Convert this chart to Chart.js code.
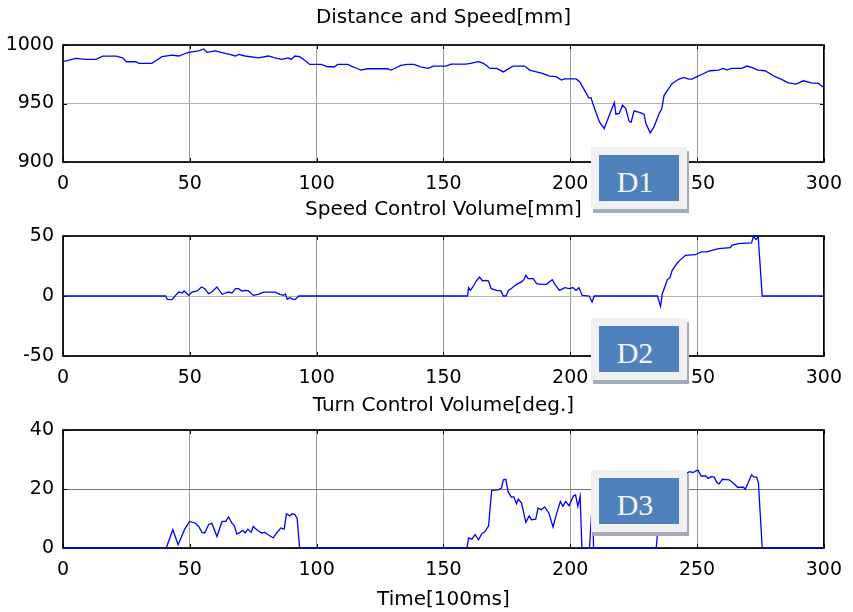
<!DOCTYPE html>
<html>
<head>
<meta charset="utf-8">
<script src="https://cdn.jsdelivr.net/npm/chart.js@4.4.1/dist/chart.umd.min.js"></script>
<style>
  body { margin: 0; background: #fff; }
  #fig { position: relative; width: 853px; height: 612px; overflow: hidden; background: #fff; }
  .panel { position: absolute; left: 0; width: 853px; }
  .tag {
    position: absolute; left: 591px; width: 96px; height: 62px;
    box-sizing: border-box; padding: 8px; background: #f1f1f1;
    box-shadow: 2px 4px 0 #a3adbb;
  }
  .tag span {
    display: flex; align-items: center; justify-content: center;
    width: 80px; height: 46px; box-sizing: border-box;
    padding: 7px 8px 0 0; background: #4f81bd; color: #f6f6f6;
    font: 30px 'Liberation Serif', 'DejaVu Serif', serif;
  }
</style>
</head>
<body>
<div id="fig">
  <div class="panel" style="top:0;height:198px"><canvas id="c1"></canvas></div>
  <div class="panel" style="top:198px;height:196px"><canvas id="c2"></canvas></div>
  <div class="panel" style="top:394px;height:218px"><canvas id="c3"></canvas></div>
  <div class="tag" style="top:147px"><span>D1</span></div>
  <div class="tag" style="top:318px"><span>D2</span></div>
  <div class="tag" style="top:470px"><span>D3</span></div>
</div>
<script>
// time axis in units of 100 ms
const xTicks = [0, 50, 100, 150, 200, 250, 300];

// distance and speed [mm]
const distT = [0, 1.3, 5, 9, 13, 15.7, 21, 23.5, 25, 28.7, 30, 35, 36.6, 39, 43, 45.7, 47.7, 49.6, 53.5, 55.5,
  56.8, 60, 62.7, 65.3, 68, 69.2, 71.8, 77, 81, 83.6, 86.2, 88.8, 90, 91.4, 93.3, 95.3, 97.3, 101.8, 104.4, 107,
  108.4, 112.3, 113.6, 116.2, 117.5, 120, 128, 129.2, 130.5, 133.2, 135.8, 138.4, 141, 144, 146, 151, 153, 159, 160.6, 163.8,
  165.8, 168.4, 171, 173.6, 176, 177.5, 182, 184, 189, 191.8, 194.5, 196.5, 197.8, 202.3, 203.7, 205.6, 207.3, 208.2, 208.9, 211.5,
  213.4, 215.4, 217.4, 218, 219.3, 220.6, 221.9, 223.2, 224, 225.2, 227.8, 229.1, 229.8, 231.5, 233, 235, 236.1, 237, 240.2, 242.9,
  244.8, 246.7, 248, 250, 252, 255, 258.5, 260.4, 261.7, 263.6, 267.6, 269.6, 271.5, 274, 276.8, 280.8, 283.3, 286, 289, 292,
  295, 297.8, 300];
const distV = [986, 986.5, 988.5, 987.7, 987.7, 990.5, 990.5, 989, 985.7, 985.7, 984.3, 984.3, 986.6, 990, 991.4, 990.6, 992.3, 993.7, 995, 996.6,
  993.7, 995, 993.5, 992.3, 990.6, 992, 990.6, 989, 990.6, 989, 987.7, 989, 987.7, 990.6, 990, 987, 983.4, 983.4, 981.4, 981.4,
  983.4, 983.4, 982, 979.7, 978.6, 979.7, 979.7, 978.6, 979.7, 982.6, 983.4, 983.4, 981.4, 980, 982, 982, 983.7, 983.7, 984.3, 985.7,
  984.3, 980, 980, 977, 980, 982, 982, 978.6, 975.7, 973.4, 972.9, 970, 971, 971, 968.6, 961.4, 954.8, 955, 950, 934.3,
  928.6, 940, 950.9, 940.9, 941.5, 948.6, 945.7, 934.9, 934, 943.7, 942, 940.9, 933, 924.9, 930, 941, 945.7, 957, 967.1, 970.9,
  972.3, 970.9, 970.9, 972.9, 975, 978, 978.6, 980, 978.6, 980, 980, 982, 980.9, 978.6, 978, 972.9, 970.6, 967.7, 966.6, 969.4,
  967.7, 967.2, 963.7];

// speed control volume [mm]
const speedT = [0, 40.5, 41.1, 43, 44.4, 45.7, 47, 47.7, 48.6, 49.6, 50.9, 52.9, 54.6, 55.9, 57.4, 58.7, 60.7, 62.7, 64, 65.3,
  66.6, 68.1, 69.2, 70.5, 71.8, 73.1, 75, 77, 79, 83.6, 85.5, 86.8, 87.7, 88.4, 89.4, 90.7, 91.6, 93, 159.5, 159.9,
  160.6, 161.6, 162.9, 164.2, 165.5, 166.8, 167.8, 168.8, 171, 172.7, 173.6, 174.7, 175.6, 177.3, 178.8, 180.8, 181.7, 182.5, 183.4, 185.4,
  186.7, 188.6, 190.6, 192.9, 194.2, 195.8, 197.8, 199.7, 201, 202.3, 203.4, 204.7, 207.5, 208.6, 209.5, 234.4, 235.6, 236.3, 238.3, 239.3,
  240.2, 242.2, 243.5, 245.4, 249.3, 251.7, 253.9, 255.9, 258.5, 263.1, 263.7, 266.3, 271.5, 272.2, 273.2, 274.1, 275.7, 300];
const speedV = [0, 0, -2.8, -3, 0.5, 3.3, 2.5, 4.2, 2.5, 0.5, 3.3, 4.2, 7.5, 6.1, 2, 3.3, 7.5, 1.4, 2.5, 3.3,
  2.5, 6.1, 6.1, 4.2, 4.7, 4.2, 0.5, 1.4, 3.3, 3.3, 1.4, 0.5, 1.7, -2.8, -1.4, -2.8, -2.8, 0, 0, 7,
  4.7, 7.5, 12.5, 15.8, 12.5, 13, 12.5, 6.1, 4.7, 4.2, 0, 0, 4.7, 7, 9.7, 11.7, 13.6, 17.2, 14.4, 14.4,
  10.3, 9.7, 9.7, 13.6, 8.9, 4.7, 7, 6.1, 7, 4.7, 7, 0.5, 0, -5, 0, 0, -8.6, 1.9, 13.6, 15.3,
  21.4, 27.5, 30.3, 33.9, 34.4, 36.7, 36.7, 38, 39.4, 40.3, 42.2, 43.6, 44.2, 49.7, 47, 49.2, 0, 0];

// turn control volume [deg.]
const turnT = [0, 40.7, 43.3, 45.4, 48, 49.9, 52.2, 53.5, 54.8, 55.9, 57.4, 58.7, 60.7, 62.7, 64.2, 65.3, 66.6, 67.6, 68.5, 69.8,
  70.9, 71.8, 72.9, 74.2, 75, 76.4, 78.3, 79.6, 80.9, 82.9, 84.2, 85.9, 87.2, 88.1, 89.4, 90.3, 91.4, 92.3, 93.3, 159.3,
  159.9, 161.2, 162.5, 163.8, 165.1, 166.4, 167.8, 169, 171.6, 172.9, 173.6, 174.6, 175.5, 176.8, 177.7, 178.8, 179.5, 180.8, 182.5, 183.8,
  184.7, 186.4, 187.3, 188.6, 189.9, 191.6, 193.2, 194.5, 196.1, 197.1, 198.2, 199.5, 201.3, 202.1, 203, 203.9, 204.6, 207.6, 208.7, 209.2,
  233.9, 234.8, 236, 238, 240, 242, 244, 245.8, 247.1, 248.4, 250.3, 251.6, 253.5, 254.4, 255.5, 256.8, 257.8, 258.7, 260, 262.7,
  264.7, 265.9, 268.3, 269, 270.2, 271.5, 272.5, 273.5, 274.2, 275.7, 300];
const turnV = [0, 0, 6.2, 1.1, 6.4, 9, 8.4, 7.3, 5.3, 5.1, 7.9, 8.4, 3.9, 9, 9, 10.5, 8.4, 7.5, 4.7, 5.3,
  6, 5.1, 6.4, 5.3, 7.3, 6.2, 5.1, 5.3, 4.5, 3.4, 5.1, 6.8, 6.4, 11.6, 10.9, 11.6, 11.3, 10.1, 0, 0,
  3.4, 3, 4.5, 2.8, 4.8, 5.6, 7.5, 19.5, 19.7, 20.3, 23.1, 23.3, 19.1, 17.2, 17.4, 15, 16.6, 15.2, 8.7, 10.9,
  9.6, 9.8, 13.5, 13, 13.9, 11.8, 7.1, 11.3, 15.8, 14.1, 15.8, 14.3, 17.7, 18, 14.1, 17.5, 0, 0, 16, 0,
  0, 9, 18, 21, 23, 24, 25, 25.3, 25.9, 25.6, 26.5, 24.4, 24.4, 23.6, 24.2, 24, 22.2, 21.7, 23.3, 23.1,
  21.7, 20.6, 20.6, 19.9, 22.2, 24.8, 24, 24, 22, 0, 0];

const yTicks1 = [900, 950, 1000];
const yTicks2 = [-50, 0, 50];
const yTicks3 = [0, 20, 40];

Chart.defaults.font.family = "'DejaVu Sans', sans-serif";
Chart.defaults.color = '#000';

// box round the axes with short inward tick marks, like a MATLAB axes
const axesBox = {
  id: 'axesBox',
  beforeDatasetsDraw(chart) {
    const { ctx, chartArea: a, scales: { x, y } } = chart;
    ctx.save();
    ctx.strokeStyle = '#000';
    ctx.lineWidth = 1;
    ctx.beginPath();
    x.ticks.forEach(t => {
      const px = Math.round(x.getPixelForValue(t.value)) + 0.5;
      ctx.moveTo(px, a.bottom); ctx.lineTo(px, a.bottom - 4);
      ctx.moveTo(px, a.top); ctx.lineTo(px, a.top + 4);
    });
    y.ticks.forEach(t => {
      const py = Math.round(y.getPixelForValue(t.value)) + 0.5;
      ctx.moveTo(a.left, py); ctx.lineTo(a.left + 4, py);
      ctx.moveTo(a.right, py); ctx.lineTo(a.right - 4, py);
    });
    ctx.stroke();
    ctx.lineWidth = 1.7;
    ctx.strokeRect(a.left, a.top, a.right - a.left, a.bottom - a.top);
    ctx.restore();
  }
};

function panel(id, times, values, o) {
  return new Chart(document.getElementById(id), {
    type: 'line',
    data: {
      datasets: [{
        data: times.map((t, i) => ({ x: t, y: values[i] })),
        borderColor: '#0000ff',
        borderWidth: 1.3,
        pointRadius: 0,
        tension: 0,
        clip: 3
      }]
    },
    options: {
      responsive: true,
      maintainAspectRatio: false,
      animation: false,
      events: [],
      devicePixelRatio: 1,
      layout: { padding: { left: 0, right: 24, top: 0, bottom: 0 } },
      plugins: {
        legend: { display: false },
        tooltip: { enabled: false },
        title: {
          display: true,
          text: o.title,
          fullSize: false,
          color: '#000',
          font: { size: 20, weight: 'normal', lineHeight: 1.2 },
          padding: { top: o.titleTop, bottom: o.titleBottom }
        }
      },
      scales: {
        x: {
          type: 'linear',
          min: 0,
          max: 300,
          afterBuildTicks: s => { s.ticks = xTicks.map(v => ({ value: v })); },
          afterFit: s => { s.height = o.xHeight; },
          grid: { color: '#9c9c9c', lineWidth: 1, drawTicks: false },
          border: { display: false },
          ticks: { font: { size: 19 }, padding: 11, maxRotation: 0, autoSkip: false, callback: v => String(v) },
          title: {
            display: !!o.xTitle,
            text: o.xTitle || '',
            color: '#000',
            font: { size: 20, lineHeight: 1.2 },
            padding: { top: 0, bottom: 0 }
          }
        },
        y: {
          min: o.yTicks[0],
          max: o.yTicks[o.yTicks.length - 1],
          afterBuildTicks: s => { s.ticks = o.yTicks.map(v => ({ value: v })); },
          afterFit: s => { s.width = 63; },
          grid: { color: o.yGrid, lineWidth: 1, drawTicks: false },
          border: { display: false },
          ticks: { font: { size: 19 }, padding: 9, callback: v => String(v) }
        }
      }
    },
    plugins: [axesBox]
  });
}

panel('c1', distT, distV, {
  title: 'Distance and Speed[mm]', titleTop: 6, titleBottom: 15,
  xHeight: 36, yTicks: yTicks1, yGrid: '#b4b4b4'
});
panel('c2', speedT, speedV, {
  title: 'Speed Control Volume[mm]', titleTop: 0, titleBottom: 14,
  xHeight: 38, yTicks: yTicks2, yGrid: '#b4b4b4'
});
panel('c3', turnT, turnV, {
  title: 'Turn Control Volume[deg.]', titleTop: 0, titleBottom: 12,
  xHeight: 64, yTicks: yTicks3, yGrid: '#787878', xTitle: 'Time[100ms]'
});
</script>
</body>
</html>
